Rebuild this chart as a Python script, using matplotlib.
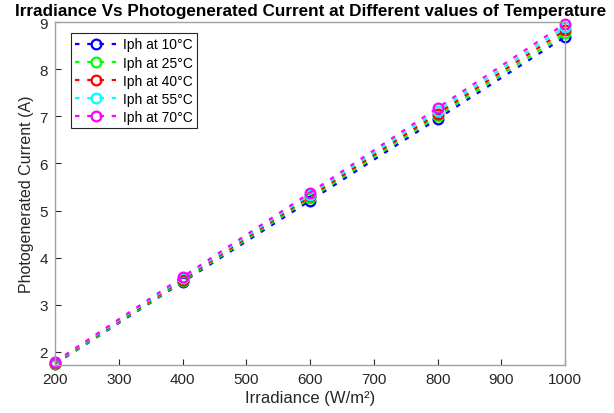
import matplotlib
matplotlib.use("Agg")
import matplotlib.pyplot as plt

plt.rcParams['font.family'] = ['Liberation Sans', 'DejaVu Sans']

# --- data ---
irradiance = [200, 400, 600, 800, 1000]
temperatures = ['10', '25', '40', '55', '70']
iph_10 = [1.74, 3.48, 5.21, 6.95, 8.69]
iph_25 = [1.75, 3.50, 5.26, 7.01, 8.76]
iph_40 = [1.77, 3.53, 5.30, 7.06, 8.83]
iph_55 = [1.78, 3.56, 5.34, 7.12, 8.90]
iph_70 = [1.79, 3.59, 5.38, 7.18, 8.97]
series = [iph_10, iph_25, iph_40, iph_55, iph_70]
colors = ['#0000FF', '#00FF00', '#FF0000', '#00FFFF', '#FF00FF']

x_ticks = [200, 300, 400, 500, 600, 700, 800, 900, 1000]
y_ticks = [2, 3, 4, 5, 6, 7, 8, 9]

fig = plt.figure(figsize=(6.14, 4.14), dpi=100)
ax = fig.add_axes([0.0896, 0.116, 0.831, 0.828])

for vals, temp, col in zip(series, temperatures, colors):
    ax.plot(irradiance, vals, linestyle=(0, (2.0, 3.5)), color=col, linewidth=1.6,
            marker='o', markersize=7, markerfacecolor='none', markeredgewidth=1.6,
            label=f'Iph at {temp}°C', clip_on=False)

ax.set_xlim(200, 1000)
ax.set_ylim(1.72, 9)
ax.set_xticks(x_ticks)
ax.set_yticks(y_ticks)
ax.tick_params(direction='in', labelsize=11, colors='#262626', length=4, pad=5)
for sp in ax.spines.values():
    sp.set_color('#A0A0A0')
    sp.set_linewidth(1)

ax.set_xlabel('Irradiance (W/m²)', fontsize=12, color='#262626', labelpad=3)
ax.set_ylabel('Photogenerated Current (A)', fontsize=11.5, color='#262626')
ax.set_title('Irradiance Vs Photogenerated Current at Different values of Temperature',
             fontsize=12.3, fontweight='bold', pad=5)

leg = ax.legend(loc='upper left', bbox_to_anchor=(0.017, 0.988), fontsize=10,
                handlelength=3.0, handletextpad=0.5, labelspacing=0.3,
                borderpad=0.3, fancybox=False, framealpha=1)
leg.get_frame().set_edgecolor('#262626')
leg.get_frame().set_linewidth(0.8)

fig.savefig('out.png', dpi=100)
